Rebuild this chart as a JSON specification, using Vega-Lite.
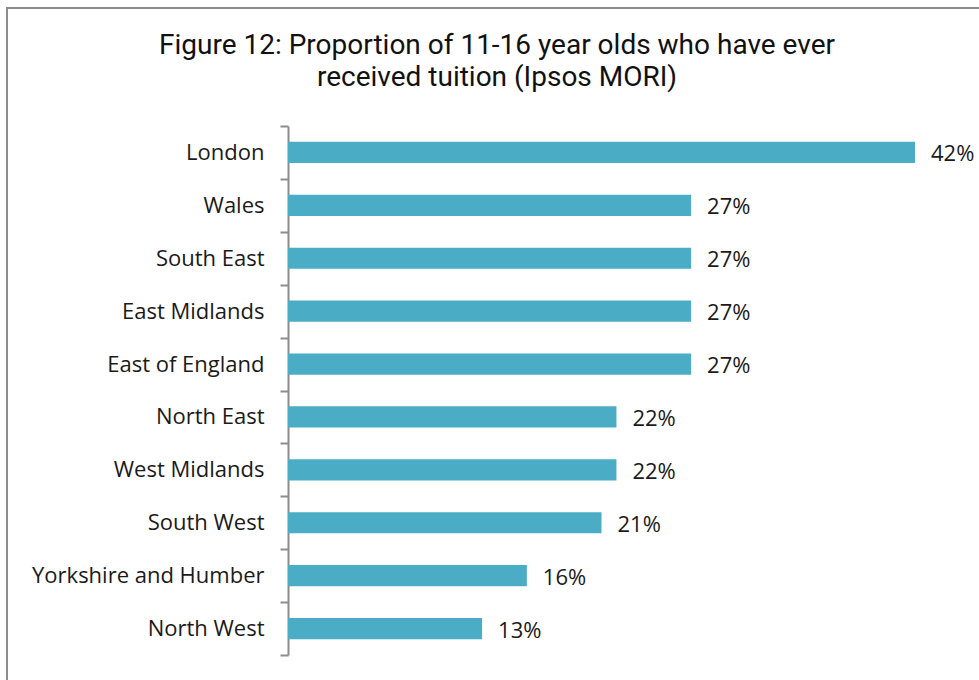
{
  "$schema": "https://vega.github.io/schema/vega-lite/v6.json",
  "autosize": "none",
  "width": 980,
  "height": 680,
  "padding": {"left": 7, "top": 8, "right": 0, "bottom": 0},
  "background": "white",
  "config": {"view": {"stroke": "#8c8c8c", "strokeWidth": 2}},
  "title": {
    "text": ["Figure 12: Proportion of 11-16 year olds who have ever", "received tuition (Ipsos MORI)"],
    "anchor": "middle",
    "frame": "group",
    "orient": "top",
    "baseline": "top",
    "offset": -95,
    "font": "Roboto",
    "fontSize": 28,
    "fontWeight": 400,
    "lineHeight": 32,
    "color": "#111111"
  },
  "data": {
    "values": [
      {"region": "London", "pct": 0.42},
      {"region": "Wales", "pct": 0.27},
      {"region": "South East", "pct": 0.27},
      {"region": "East Midlands", "pct": 0.27},
      {"region": "East of England", "pct": 0.27},
      {"region": "North East", "pct": 0.22},
      {"region": "West Midlands", "pct": 0.22},
      {"region": "South West", "pct": 0.21},
      {"region": "Yorkshire and Humber", "pct": 0.16},
      {"region": "North West", "pct": 0.13}
    ]
  },
  "encoding": {
    "y": {
      "field": "region",
      "type": "nominal",
      "sort": null,
      "scale": {"range": [118, 647], "paddingInner": 0, "paddingOuter": 0},
      "axis": {
        "orient": "left",
        "offset": -281,
        "title": null,
        "tickBand": "extent",
        "tickSize": 8,
        "domainColor": "#8c8c8c",
        "tickColor": "#8c8c8c",
        "domainWidth": 2,
        "tickWidth": 2,
        "labelFont": "Open Sans",
        "labelFontSize": 22,
        "labelColor": "#1a1a1a",
        "labelPadding": 16,
        "labelLimit": 400,
        "grid": false
      }
    },
    "x": {
      "field": "pct",
      "type": "quantitative",
      "scale": {"domain": [0, 0.42], "range": [281, 908], "zero": true},
      "axis": null
    }
  },
  "layer": [
    {"mark": {"type": "bar", "color": "#4BACC6", "height": {"band": 0.4}}},
    {
      "mark": {"type": "text", "align": "left", "baseline": "middle", "dx": 16, "dy": 2, "font": "Open Sans", "fontSize": 22, "color": "#1a1a1a"},
      "encoding": {"text": {"field": "pct", "type": "quantitative", "format": ".0%"}}
    }
  ]
}
